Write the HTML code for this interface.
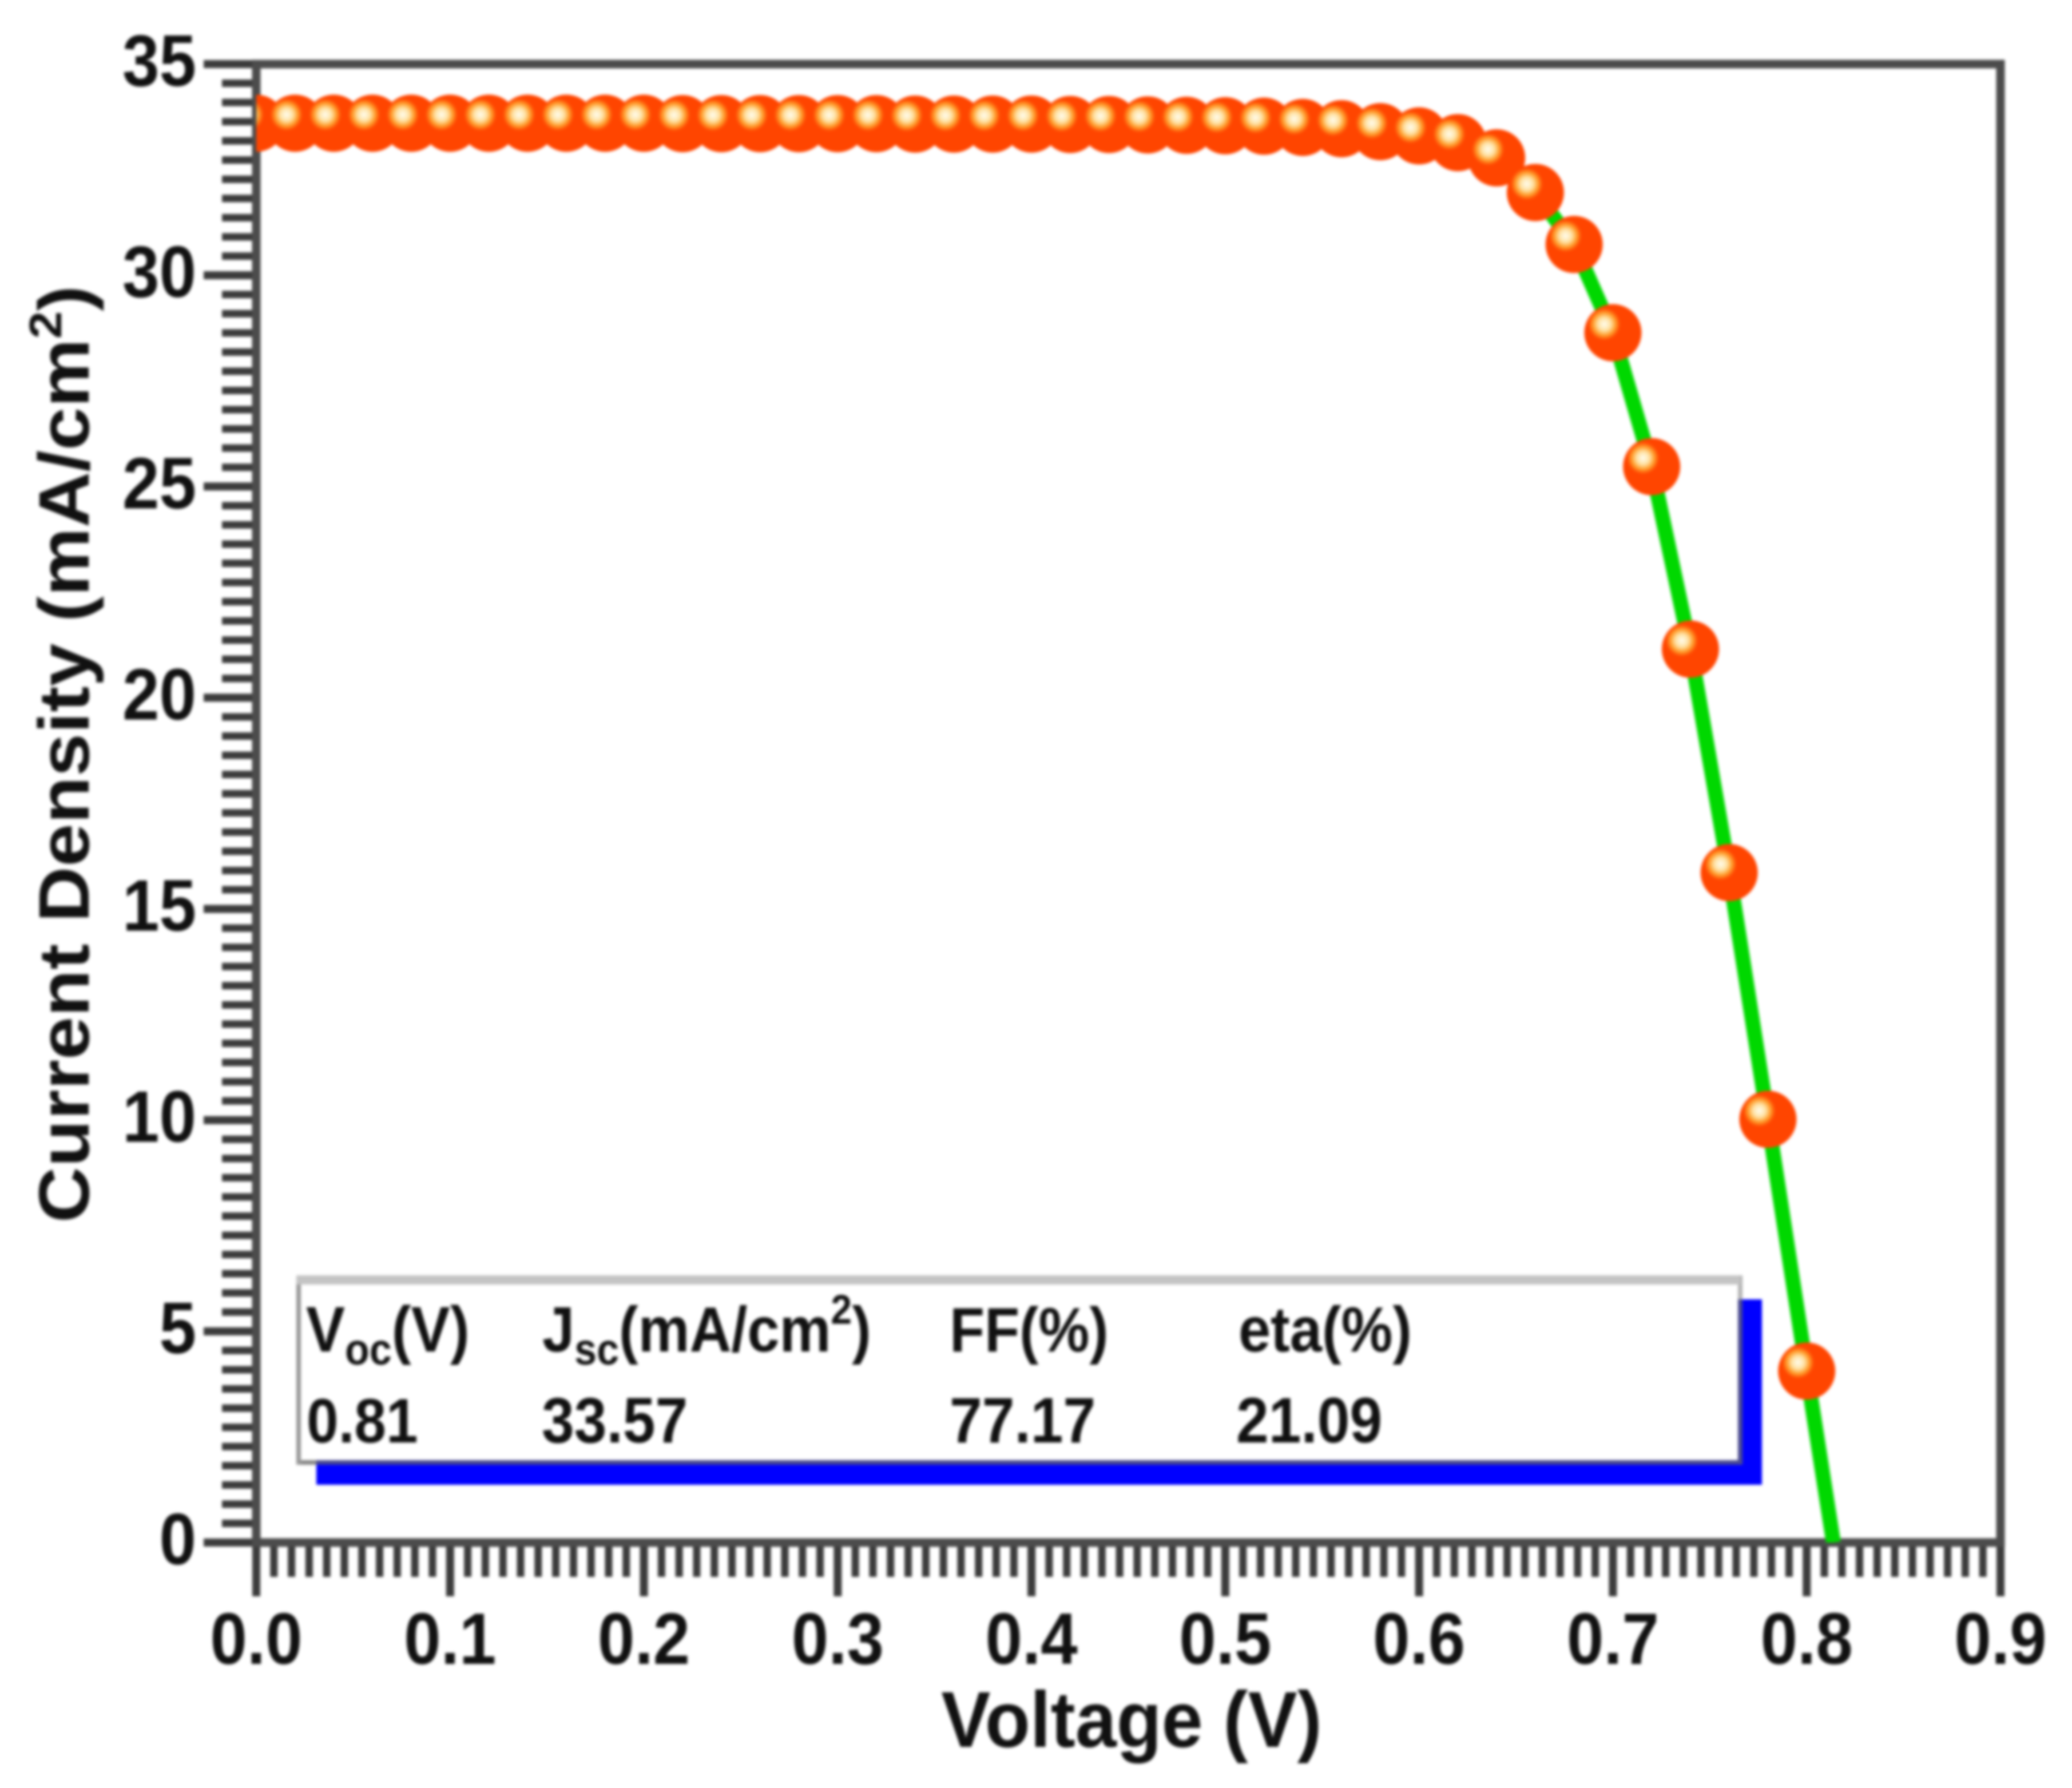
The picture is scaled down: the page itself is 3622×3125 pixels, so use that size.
<!DOCTYPE html>
<html lang="en">
<head>
<meta charset="utf-8">
<title>Current density vs voltage</title>
<style>
html,body{margin:0;padding:0;background:#fff;}
svg{display:block;}
text{font-family:"Liberation Sans",Arial,sans-serif;font-weight:bold;fill:#111;}
#chart-root{filter:blur(2.6px);}
</style>
</head>
<body>
<svg id="chart" xmlns="http://www.w3.org/2000/svg" width="3622" height="3125" viewBox="0 0 3622 3125">
  <defs>
    <clipPath id="plot-clip"><rect x="448" y="100" width="3050" height="2596"/></clipPath>
    <radialGradient id="marker-shine">
      <stop offset="0" stop-color="#fffdf0"/>
      <stop offset="0.4" stop-color="#ffe2a4"/>
      <stop offset="0.72" stop-color="#ff9a28"/>
      <stop offset="1" stop-color="#ff4500"/>
    </radialGradient>
  </defs>
  <rect width="3622" height="3125" fill="#ffffff"/>
  <g id="chart-root">
    <g id="ticks"></g>
    <rect x="448" y="112" width="3049" height="2584" fill="none" stroke="#4c4c4c" stroke-width="15"/>
    <g id="tick-labels"></g>
    <g clip-path="url(#plot-clip)">
      <polyline id="fit-line" fill="none" stroke="#00d800" stroke-width="26" stroke-linejoin="round"/>
    </g>
    <g id="legend">
      <rect x="553" y="2271" width="2527" height="324" fill="#0000ff"/>
      <rect x="522" y="2237" width="2520" height="320" fill="#ffffff"/>
      <rect x="522" y="2552" width="31" height="8" fill="#888888"/>
      <rect x="553" y="2552" width="2493" height="8" fill="#4a4a90"/>
      <rect x="3038" y="2271" width="8" height="289" fill="#4a4a90"/>
      <rect x="3038" y="2229" width="8" height="42" fill="#b5b5b5"/>
      <rect x="518" y="2229" width="8" height="331" fill="#999999"/>
      <rect x="518" y="2229" width="2524" height="16" fill="#c4c4c4"/>
      <g transform="translate(0,2362) scale(1,1.1)">
        <text x="535" y="0" font-size="102">V<tspan font-size="70" dy="21">oc</tspan><tspan dy="-21">(V)</tspan></text>
        <text x="948" y="0" font-size="101">J<tspan font-size="70" dy="21">sc</tspan><tspan dy="-21">(mA/cm</tspan><tspan font-size="66" dy="-44">2</tspan><tspan dy="44">)</tspan></text>
        <text x="1660" y="0" font-size="100">FF(%)</text>
        <text x="2165" y="0" font-size="101">eta(%)</text>
      </g>
      <g transform="translate(0,2521) scale(1,1.1)">
        <text x="536" y="0" font-size="100">0.81</text>
        <text x="947" y="0" font-size="102">33.57</text>
        <text x="1660" y="0" font-size="102">77.17</text>
        <text x="2161" y="0" font-size="102">21.09</text>
      </g>
    </g>
    <g id="markers" clip-path="url(#plot-clip)"></g>
    <text transform="translate(1978,3053) scale(1.01,1.08)" text-anchor="middle" font-size="128">Voltage (V)</text>
    <text transform="translate(155,1318) rotate(-90) scale(1.08,1)" text-anchor="middle" font-size="125">Current Density (mA/cm<tspan font-size="80" dy="-48">2</tspan><tspan dy="48">)</tspan></text>
  </g>
</svg>
<script>
// Chart data
const voltages = [0.00,0.02,0.04,0.06,0.08,0.10,0.12,0.14,0.16,0.18,0.20,0.22,0.24,0.26,0.28,0.30,0.32,0.34,0.36,0.38,0.40,0.42,0.44,0.46,0.48,0.50,0.52,0.54,0.56,0.58,0.60,0.62,0.64,0.66,0.68,0.70,0.72,0.74,0.76,0.78,0.80];
const currents = [33.6,33.6,33.6,33.6,33.6,33.6,33.6,33.6,33.6,33.6,33.6,33.59,33.59,33.59,33.59,33.59,33.59,33.58,33.58,33.58,33.58,33.57,33.57,33.56,33.55,33.54,33.53,33.5,33.47,33.4,33.3,33.14,32.78,31.96,30.73,28.64,25.47,21.15,15.86,10.02,4.06];
const interceptVoltages = [0.8138];
const interceptCurrents = [0];
const xTickLabels = ["0.0","0.1","0.2","0.3","0.4","0.5","0.6","0.7","0.8","0.9"];
const yTickLabels = ["0","5","10","15","20","25","30","35"];

const SVGNS = "http://www.w3.org/2000/svg";
const xLeft = 448, xRight = 3497, yBottom = 2696, yTop = 112;
const xMax = 0.9, yMax = 35, minorIntervals = 11;
function xScale(v){ return xLeft + (v / xMax) * (xRight - xLeft); }
function yScale(j){ return yBottom - (j / yMax) * (yBottom - yTop); }

const tickGroup = document.getElementById("ticks");
const labelGroup = document.getElementById("tick-labels");
const markerGroup = document.getElementById("markers");

function drawLine(x1, y1, x2, y2, width){
  const line = document.createElementNS(SVGNS, "line");
  line.setAttribute("x1", x1);
  line.setAttribute("y1", y1);
  line.setAttribute("x2", x2);
  line.setAttribute("y2", y2);
  line.setAttribute("stroke", "#3c3c3c");
  line.setAttribute("stroke-width", width);
  tickGroup.appendChild(line);
  return line;
}

xTickLabels.forEach(function(label, i){
  const value = Number(label);
  const x = xScale(value);
  const major = drawLine(x, yBottom, x, 2790, 14);
  
  
  if (i < xTickLabels.length - 1) {
    const next = Number(xTickLabels[i + 1]);
    for (let m = 1; m < minorIntervals; m++) {
      const mx = xScale(value + (next - value) * m / minorIntervals);
      const minor = drawLine(mx, yBottom, mx, 2756, 13);
      
      
    }
  }
  const text = document.createElementNS(SVGNS, "text");
  text.setAttribute("transform", "translate(" + x + ",2908) scale(1,1.1)");
  text.setAttribute("text-anchor", "middle");
  text.setAttribute("font-size", "116");
  text.textContent = label;
  
  
  labelGroup.appendChild(text);
});

yTickLabels.forEach(function(label, i){
  const value = Number(label);
  const y = yScale(value);
  const major = drawLine(356, y, xLeft, y, 14);
  
  
  if (i < yTickLabels.length - 1) {
    const next = Number(yTickLabels[i + 1]);
    for (let m = 1; m < minorIntervals; m++) {
      const my = yScale(value + (next - value) * m / minorIntervals);
      const minor = drawLine(388, my, xLeft, my, 13);
      
      
    }
  }
  const text = document.createElementNS(SVGNS, "text");
  text.setAttribute("transform", "translate(343," + (y + 38) + ") scale(1,1.1)");
  text.setAttribute("text-anchor", "end");
  text.setAttribute("font-size", "116");
  text.textContent = label;
  
  
  labelGroup.appendChild(text);
});

const linePoints = voltages.concat(interceptVoltages).map(function(v, i){
  const j = currents.concat(interceptCurrents)[i];
  return xScale(v) + "," + yScale(j);
});
document.getElementById("fit-line").setAttribute("points", linePoints.join(" "));

voltages.forEach(function(v, i){
  const cx = xScale(v), cy = yScale(currents[i]);
  const body = document.createElementNS(SVGNS, "circle");
  body.setAttribute("cx", cx);
  body.setAttribute("cy", cy);
  body.setAttribute("r", 50);
  body.setAttribute("fill", "#ff4500");
  
  
  markerGroup.appendChild(body);
  const shine = document.createElementNS(SVGNS, "circle");
  shine.setAttribute("cx", cx - 15);
  shine.setAttribute("cy", cy - 15);
  shine.setAttribute("r", 28);
  shine.setAttribute("fill", "url(#marker-shine)");
  
  
  markerGroup.appendChild(shine);
});
</script>
</body>
</html>
